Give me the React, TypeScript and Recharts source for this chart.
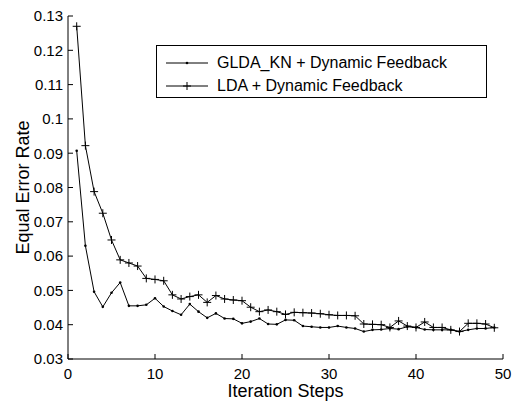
import { LineChart, Line, XAxis, YAxis, Legend, Label } from 'recharts'

const steps = [
  1, 2, 3, 4, 5, 6, 7, 8, 9, 10, 11, 12, 13, 14, 15, 16, 17, 18, 19, 20, 21, 22, 23, 24, 25,
  26, 27, 28, 29, 30, 31, 32, 33, 34, 35, 36, 37, 38, 39, 40, 41, 42, 43, 44, 45, 46, 47, 48, 49,
]

const gldaKn = [
  0.0907, 0.063, 0.0496, 0.0452, 0.0493, 0.0523, 0.0455, 0.0455, 0.0458, 0.0477, 0.0453, 0.044,
  0.0429, 0.046, 0.0438, 0.042, 0.0433, 0.0418, 0.0417, 0.0404, 0.0409, 0.0418, 0.0402, 0.0401,
  0.0414, 0.0413, 0.0396, 0.0394, 0.0392, 0.0392, 0.0396, 0.0392, 0.0389, 0.038, 0.0385, 0.0386,
  0.0389, 0.0387, 0.0394, 0.0392, 0.0386, 0.0385, 0.0385, 0.0385, 0.038, 0.0385, 0.0389, 0.0389,
  0.0392,
]

const lda = [
  0.127, 0.0922, 0.0788, 0.0725, 0.0647, 0.0589, 0.058, 0.0571, 0.0535, 0.0532, 0.0528, 0.0487,
  0.0475, 0.0482, 0.0487, 0.0465, 0.0485, 0.0475, 0.0472, 0.047, 0.0451, 0.0438, 0.0443, 0.0438,
  0.043, 0.0436, 0.0435, 0.0434, 0.0432, 0.0429, 0.0427, 0.0427, 0.0426, 0.0402, 0.0401, 0.04,
  0.0392, 0.0411, 0.0396, 0.0392, 0.0408, 0.0392, 0.0392, 0.0385, 0.038, 0.0404, 0.0404, 0.0402,
  0.0391,
]

const xTicks = [0, 10, 20, 30, 40, 50]
const yTicks = [0.03, 0.04, 0.05, 0.06, 0.07, 0.08, 0.09, 0.1, 0.11, 0.12, 0.13]
const seriesNames = ['GLDA_KN + Dynamic Feedback', 'LDA + Dynamic Feedback']

const data = steps.map((step, i) => ({ step, glda: gldaKn[i], lda: lda[i] }))

const FONT = '"Liberation Sans", Arial, Helvetica, sans-serif'

function PlusDot(props: any) {
  const { cx, cy, index } = props
  if (cx == null || cy == null) return <g key={index} />
  return (
    <path
      key={index}
      d={`M${cx - 4},${cy}h8M${cx},${cy - 4}v8`}
      stroke="#000"
      strokeWidth={1}
      fill="none"
    />
  )
}

function LegendBox() {
  return (
    <div
      style={{
        width: 331,
        height: 53,
        border: '1px solid #000',
        background: '#fff',
        fontFamily: FONT,
        fontSize: 16,
        color: '#000',
        boxSizing: 'border-box',
        paddingTop: 5,
      }}
    >
      {seriesNames.map((name, i) => (
        <div key={name} style={{ display: 'flex', alignItems: 'center', height: 23 }}>
          <svg width={60} height={12} style={{ flex: 'none' }}>
            <line x1={9} y1={6} x2={51} y2={6} stroke="#000" strokeWidth={1} />
            {i === 0 ? (
              <circle cx={30} cy={6} r={1.3} fill="#000" />
            ) : (
              <path d="M26,6h8M30,2v8" stroke="#000" strokeWidth={1} />
            )}
          </svg>
          <span>{name}</span>
        </div>
      ))}
    </div>
  )
}

const noTick = () => <g />

export default function App() {
  return (
    <div style={{ position: 'absolute', left: 0, top: 0, width: 514, height: 401, background: '#fff' }}>
      <LineChart width={514} height={401} data={data} margin={{ top: 16, right: 11, bottom: 0, left: 0 }}>
        <XAxis
          xAxisId="bottom"
          dataKey="step"
          type="number"
          domain={[0, 50]}
          ticks={xTicks}
          allowDataOverflow
          height={42}
          tickSize={-5}
          tickMargin={14}
          axisLine={{ stroke: '#000' }}
          tickLine={{ stroke: '#000' }}
          tick={{ fill: '#000', fontSize: 15, fontFamily: FONT }}
        >
          <Label
            value="Iteration Steps"
            position="insideBottom"
            offset={4}
            style={{ fill: '#000', fontSize: 18, fontFamily: FONT }}
          />
        </XAxis>
        <XAxis
          xAxisId="top"
          orientation="top"
          dataKey="step"
          type="number"
          domain={[0, 50]}
          ticks={xTicks}
          allowDataOverflow
          height={0}
          tickSize={-5}
          axisLine={{ stroke: '#000' }}
          tickLine={{ stroke: '#000' }}
          tick={noTick}
        />
        <YAxis
          yAxisId="left"
          type="number"
          domain={[0.03, 0.13]}
          ticks={yTicks}
          allowDataOverflow
          width={68}
          tickSize={-5}
          tickMargin={10}
          axisLine={{ stroke: '#000' }}
          tickLine={{ stroke: '#000' }}
          tick={{ fill: '#000', fontSize: 15, fontFamily: FONT }}
          tickFormatter={(v: number) => String(v)}
        >
          <Label
            value="Equal Error Rate"
            angle={-90}
            position="insideLeft"
            offset={23}
            style={{ fill: '#000', fontSize: 18, fontFamily: FONT, textAnchor: 'middle' }}
          />
        </YAxis>
        <YAxis
          yAxisId="right"
          orientation="right"
          type="number"
          domain={[0.03, 0.13]}
          ticks={yTicks}
          allowDataOverflow
          width={0}
          tickSize={-5}
          axisLine={{ stroke: '#000' }}
          tickLine={{ stroke: '#000' }}
          tick={noTick}
        />
        <Legend
          layout="vertical"
          align="center"
          verticalAlign="middle"
          content={() => <LegendBox />}
          wrapperStyle={{ top: 45, left: 156, width: 331, height: 53 }}
        />
        <Line
          xAxisId="bottom"
          yAxisId="left"
          type="linear"
          dataKey="glda"
          name={seriesNames[0]}
          stroke="#000"
          strokeWidth={1}
          dot={{ r: 1.3, fill: '#000', stroke: 'none' }}
          isAnimationActive={false}
        />
        <Line
          xAxisId="bottom"
          yAxisId="left"
          type="linear"
          dataKey="lda"
          name={seriesNames[1]}
          stroke="#000"
          strokeWidth={1}
          dot={PlusDot}
          isAnimationActive={false}
        />
      </LineChart>
    </div>
  )
}
